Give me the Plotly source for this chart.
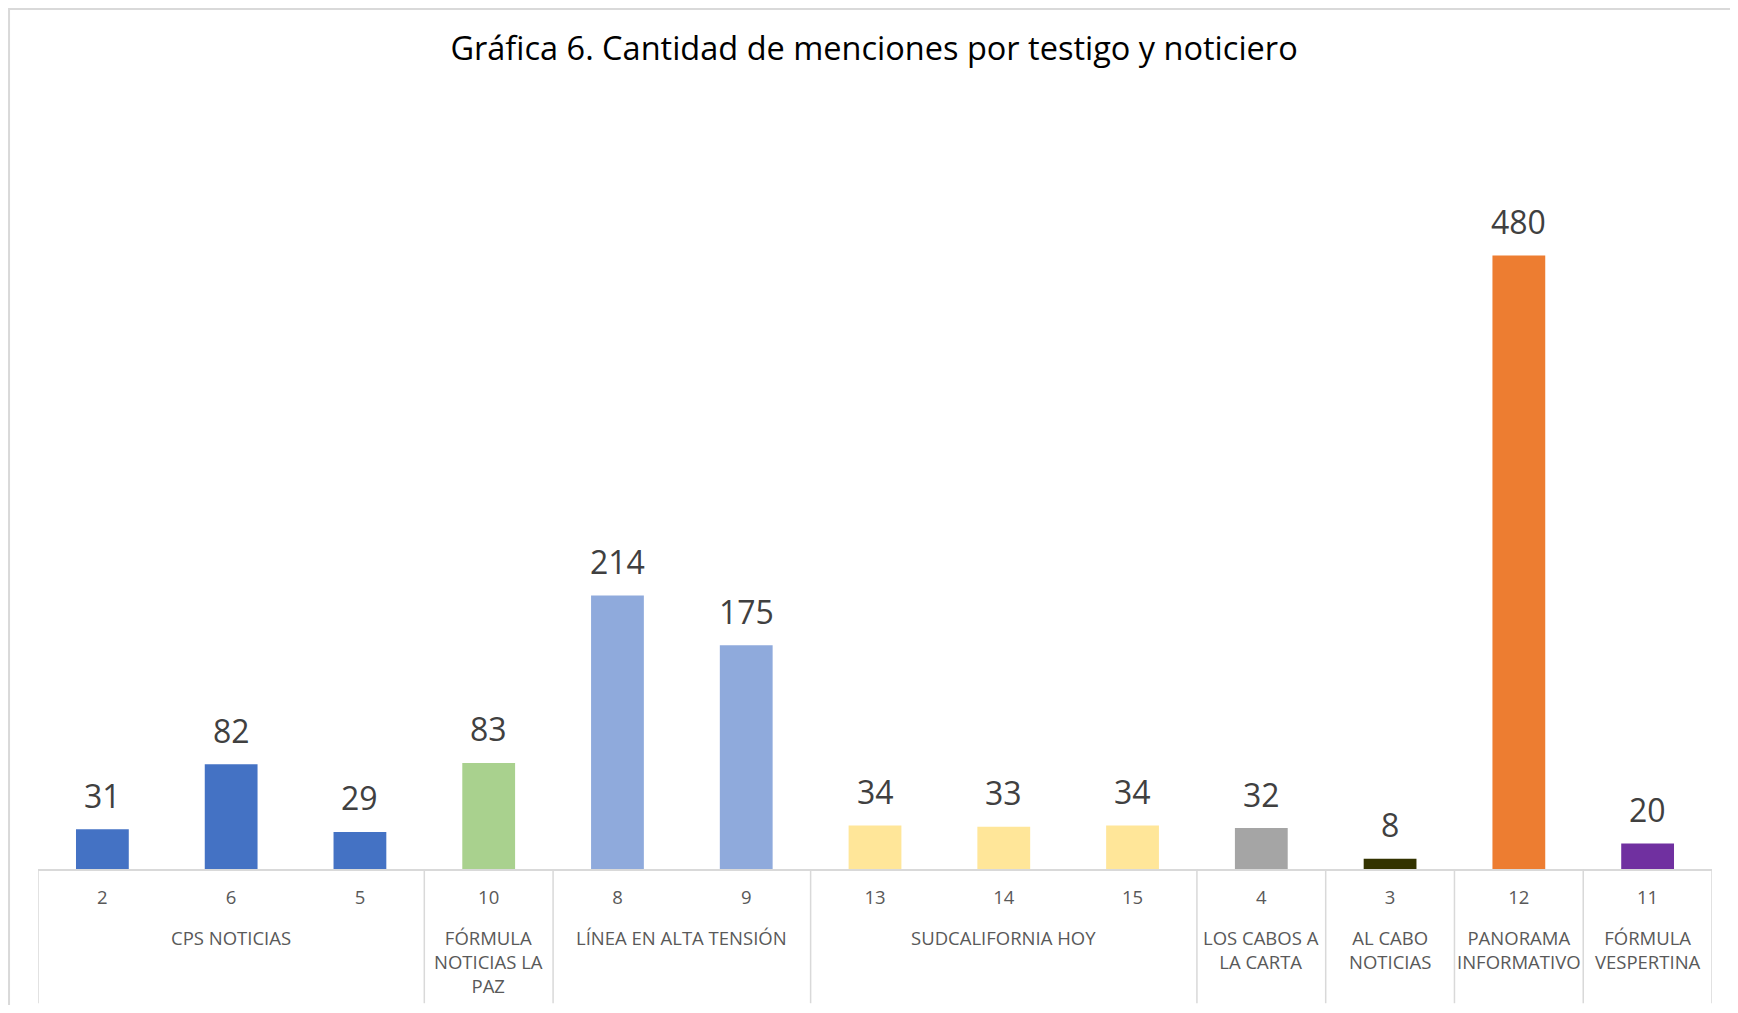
import plotly.graph_objects as go

# Datos de la gráfica
testigos = ["2", "6", "5", "10", "8", "9", "13", "14", "15", "4", "3", "12", "11"]
menciones = [31, 82, 29, 83, 214, 175, 34, 33, 34, 32, 8, 480, 20]
colores = [
    "#4472C4", "#4472C4", "#4472C4",
    "#A9D18E",
    "#8FAADC", "#8FAADC",
    "#FFE699", "#FFE699", "#FFE699",
    "#A5A5A5",
    "#333300",
    "#ED7D31",
    "#7030A0",
]
# noticieros: nombre y cantidad de testigos que agrupa
noticieros = [
    "CPS NOTICIAS",
    "FÓRMULA<br>NOTICIAS LA<br>PAZ",
    "LÍNEA EN ALTA TENSIÓN",
    "SUDCALIFORNIA HOY",
    "LOS CABOS A<br>LA CARTA",
    "AL CABO<br>NOTICIAS",
    "PANORAMA<br>INFORMATIVO",
    "FÓRMULA<br>VESPERTINA",
]
testigos_por_noticiero = [3, 1, 2, 3, 1, 1, 1, 1]

gris = "#D9D9D9"
texto = "#595959"

fig = go.Figure(data=[
    go.Bar(
        x=testigos,
        y=menciones,
        marker=dict(color=colores, line=dict(width=0)),
        hoverinfo="x+y",
    )
])

# etiquetas de datos (posición por índice de categoría)
for i, v in enumerate(menciones):
    fig.add_annotation(
        x=i, y=v, text=str(v), showarrow=False,
        yanchor="middle", yshift=34,
        font=dict(family="Open Sans", size=32, color="#404040"),
    )

# nombres de noticieros y divisiones del eje
inicio = 0
fig.add_shape(type="line", xref="x", yref="paper", x0=-0.5, x1=-0.5, y0=0, y1=-0.175,
              line=dict(color=gris, width=1.5))
for nombre, n in zip(noticieros, testigos_por_noticiero):
    centro = inicio + (n - 1) / 2
    fig.add_annotation(
        x=centro, xref="x", y=-0.070, yref="paper", text=nombre,
        showarrow=False, yanchor="top", align="center",
        font=dict(family="Open Sans", size=18.5, color=texto),
    )
    inicio += n
    fig.add_shape(type="line", xref="x", yref="paper", x0=inicio - 0.5, x1=inicio - 0.5,
                  y0=0, y1=-0.175, line=dict(color=gris, width=1.5))

# borde del área del gráfico
fig.add_shape(type="rect", xref="paper", yref="paper",
              x0=-0.0173, x1=1.05, y0=-0.3, y1=1.1213,
              line=dict(color=gris, width=2), fillcolor="rgba(0,0,0,0)", layer="below")

fig.update_layout(
    width=1730,
    height=997,
    paper_bgcolor="white",
    plot_bgcolor="white",
    showlegend=False,
    bargap=0.59,
    margin=dict(l=30, r=26, t=94, b=136),
    title=dict(
        text="Gráfica 6. Cantidad de menciones por testigo y noticiero",
        x=0.5006, xanchor="center",
        y=1 - 41 / 997, yanchor="middle",
        font=dict(family="Open Sans", size=32.5, color="#000000"),
    ),
    xaxis=dict(
        type="category",
        range=[-0.5, len(testigos) - 0.5],
        showline=True,
        linecolor=gris,
        linewidth=1.5,
        ticks="outside",
        ticklen=11,
        tickcolor="rgba(0,0,0,0)",
        showgrid=False,
        tickfont=dict(family="Open Sans", size=18.5, color=texto),
    ),
    yaxis=dict(range=[0, 600], visible=False, showgrid=False),
)

fig.write_html("out.html")
